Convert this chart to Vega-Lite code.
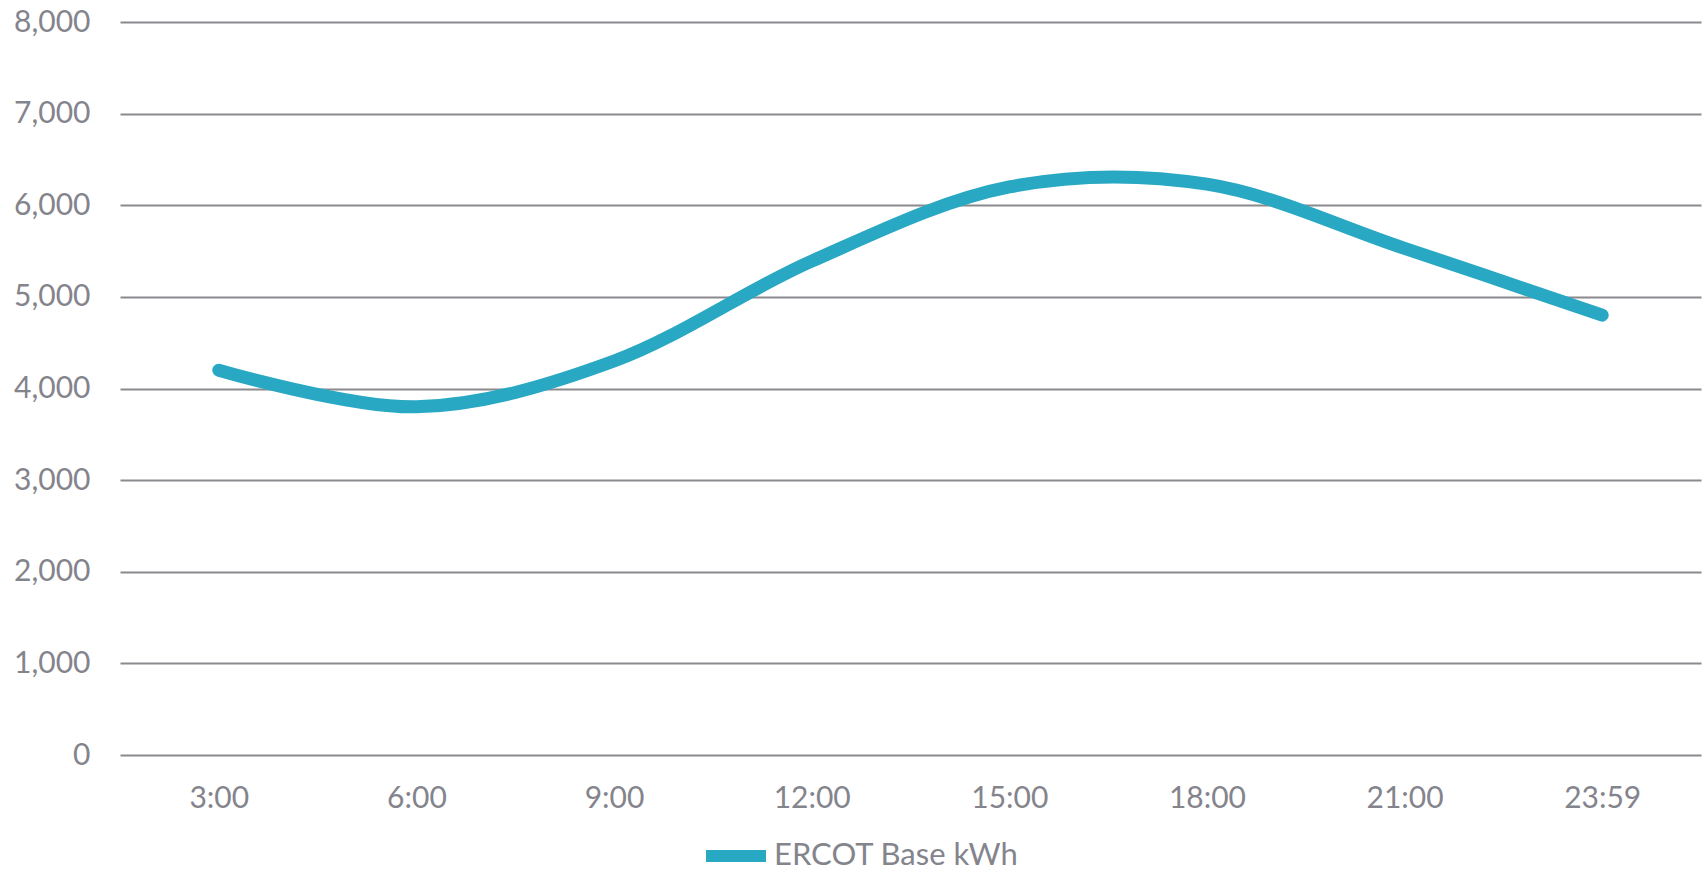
{
  "$schema": "https://vega.github.io/schema/vega-lite/v6.json",
  "width": 1581,
  "height": 733,
  "autosize": {"type": "none"},
  "padding": {"left": 120, "top": 22, "right": 7, "bottom": 118},
  "background": "white",
  "config": {
    "font": "Lato",
    "view": {"stroke": null},
    "axis": {
      "labelFont": "Lato",
      "labelFontSize": 30,
      "labelColor": "#84848c",
      "domain": false,
      "ticks": false,
      "title": null
    },
    "legend": {
      "labelFont": "Lato",
      "labelFontSize": 31,
      "labelColor": "#84848c",
      "labelLimit": 0
    }
  },
  "data": {
    "values": [
      {"time": "3:00", "kwh": 4200, "series": "ERCOT Base kWh"},
      {"time": "6:00", "kwh": 3800, "series": "ERCOT Base kWh"},
      {"time": "9:00", "kwh": 4300, "series": "ERCOT Base kWh"},
      {"time": "12:00", "kwh": 5390, "series": "ERCOT Base kWh"},
      {"time": "15:00", "kwh": 6200, "series": "ERCOT Base kWh"},
      {"time": "18:00", "kwh": 6230, "series": "ERCOT Base kWh"},
      {"time": "21:00", "kwh": 5530, "series": "ERCOT Base kWh"},
      {"time": "23:59", "kwh": 4800, "series": "ERCOT Base kWh"}
    ]
  },
  "mark": {
    "type": "line",
    "interpolate": "cardinal",
    "strokeWidth": 13,
    "strokeCap": "round",
    "strokeJoin": "round"
  },
  "encoding": {
    "x": {
      "field": "time",
      "type": "ordinal",
      "sort": null,
      "scale": {"type": "point", "padding": 0.5},
      "axis": {"labelAngle": 0, "labelPadding": 28, "grid": false}
    },
    "y": {
      "field": "kwh",
      "type": "quantitative",
      "scale": {"domain": [0, 8000], "nice": false},
      "axis": {
        "values": [0, 1000, 2000, 3000, 4000, 5000, 6000, 7000, 8000],
        "format": ",d",
        "labelPadding": 30,
        "grid": true,
        "gridColor": "#8a8a8e",
        "gridWidth": 2
      }
    },
    "color": {
      "field": "series",
      "type": "nominal",
      "scale": {"range": ["#29A8C3"]},
      "legend": {
        "title": null,
        "orient": "none",
        "legendX": 580,
        "legendY": 798,
        "direction": "horizontal",
        "symbolType": "stroke",
        "symbolSize": 3600,
        "symbolStrokeWidth": 12,
        "labelOffset": 2
      }
    }
  }
}
